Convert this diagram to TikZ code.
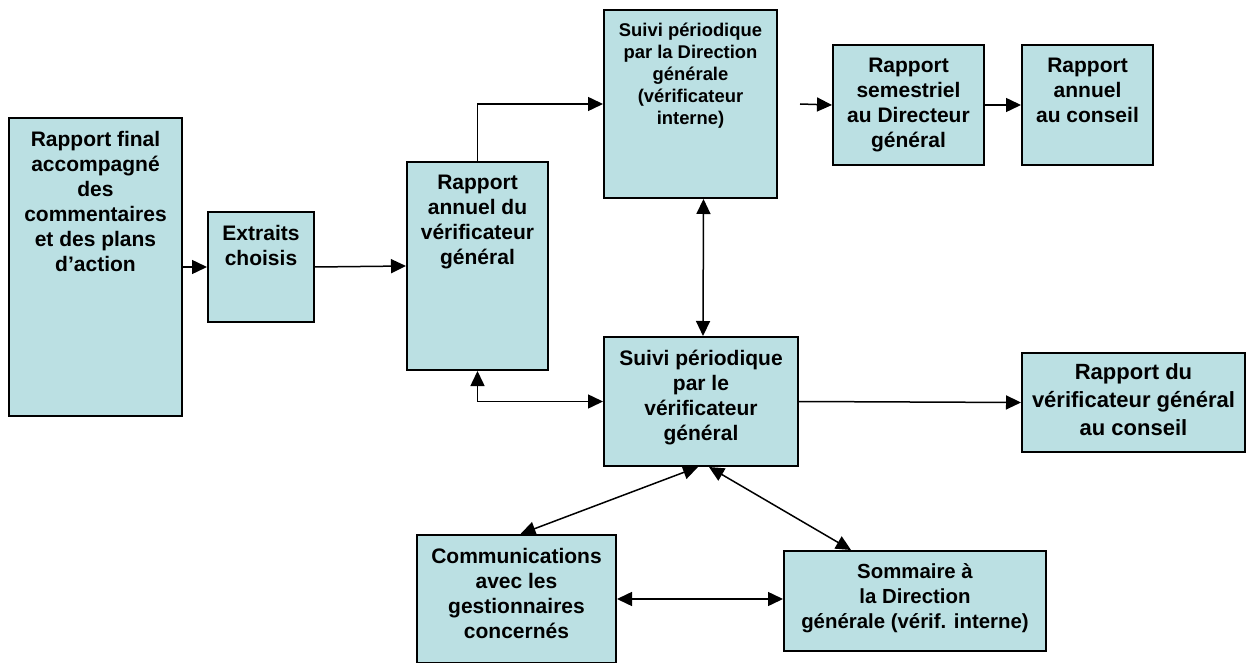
\documentclass[tikz,border=0pt]{standalone}
\usepackage{fontspec}
\setmainfont{Liberation Sans}
\usetikzlibrary{arrows.meta,calc}
\definecolor{bleupale}{HTML}{BBE0E3}
\newlength\px
\setlength\px{0.5pt}
\tikzset{
  boite/.style 2 args={draw, line width=2\px, fill=bleupale, inner sep=0pt, anchor=north west,
    font=\fontsize{10.5}{12.5}\selectfont\bfseries,
    execute at begin node={\begin{minipage}[c][#2\px][t]{#1\px}\centering\vspace*{13\px}},
    execute at end node={\end{minipage}}},
  fleche/.style={line width=1.5\px, -{Triangle[length=7.5pt,width=7pt]}},
  fleches/.style={fleche, {Triangle[length=7.5pt,width=7pt]}-{Triangle[length=7.5pt,width=7pt]}}
}
\begin{document}
\begin{tikzpicture}[x=0.5pt,y=-0.5pt]
        \useasboundingbox (0,0) rectangle (1248,663);
        \node[boite={173}{298}] (final) at (8,117) {Rapport final\\accompagné\\des\\commentaires\\et des plans\\d’action};
        \node[boite={106}{110}] (extraits) at (207,211) {Extraits\\choisis};
        \node[boite={141}{208}] (annuelvg) at (406,161) {Rapport\\annuel du\\vérificateur\\général};
        \node[boite={173}{188}, font=\fontsize{9.2}{11}\selectfont\bfseries] (suividg) at (603,9) {Suivi périodique\\par la Direction\\générale\\(vérificateur\\interne)};
        \node[boite={151}{120}] (semestriel) at (832,44) {Rapport\\semestriel\\au Directeur\\général};
        \node[boite={131}{120}] (annuelconseil) at (1021,44) {Rapport\\annuel\\au conseil};
        \node[boite={194}{129}] (suivivg) at (603,336) {Suivi périodique\\par le\\vérificateur\\général};
        \node[boite={223}{99}, font=\fontsize{11}{14}\selectfont\bfseries] (rapportvg) at (1021,352) {\vspace*{-2\px}Rapport du\\vérificateur général\\au conseil};
        \node[boite={199}{128}] (comm) at (416,534) {Communications\\avec les\\gestionnaires\\concernés};
        \node[boite={262}{100}, font=\fontsize{10.2}{12.5}\selectfont\bfseries] (sommaire) at (783,550) {Sommaire à\\la Direction\\générale (vérif. interne)};
        % liaisons
        \coordinate (depart) at (800,104);
        \draw[fleche] (final.east) -- (extraits.west);
        \draw[fleche] (extraits.east) -- (annuelvg.west);
        \draw[fleche] (annuelvg.north) |- (suividg.west);
        \draw[fleche] (depart) -- (semestriel.west);
        \draw[fleche] (semestriel.east) -- (annuelconseil.west);
        \draw[fleches] ($(suividg.south)+(13,0)$) -- ($(suivivg.north)+(2,0)$);
        \draw[fleches] (annuelvg.south) |- (suivivg.west);
        \draw[fleche] (suivivg.east) -- (rapportvg.west);
        \draw[fleches] ($(suivivg.south)+(-3,0)$) -- ($(comm.north)+(4,0)$);
        \draw[fleches] ($(suivivg.south)+(8,0)$) -- ($(sommaire.north west)+(68,0)$);
        \draw[fleches] (comm.east) -- (comm.east -| sommaire.west);
\end{tikzpicture}
\end{document}
